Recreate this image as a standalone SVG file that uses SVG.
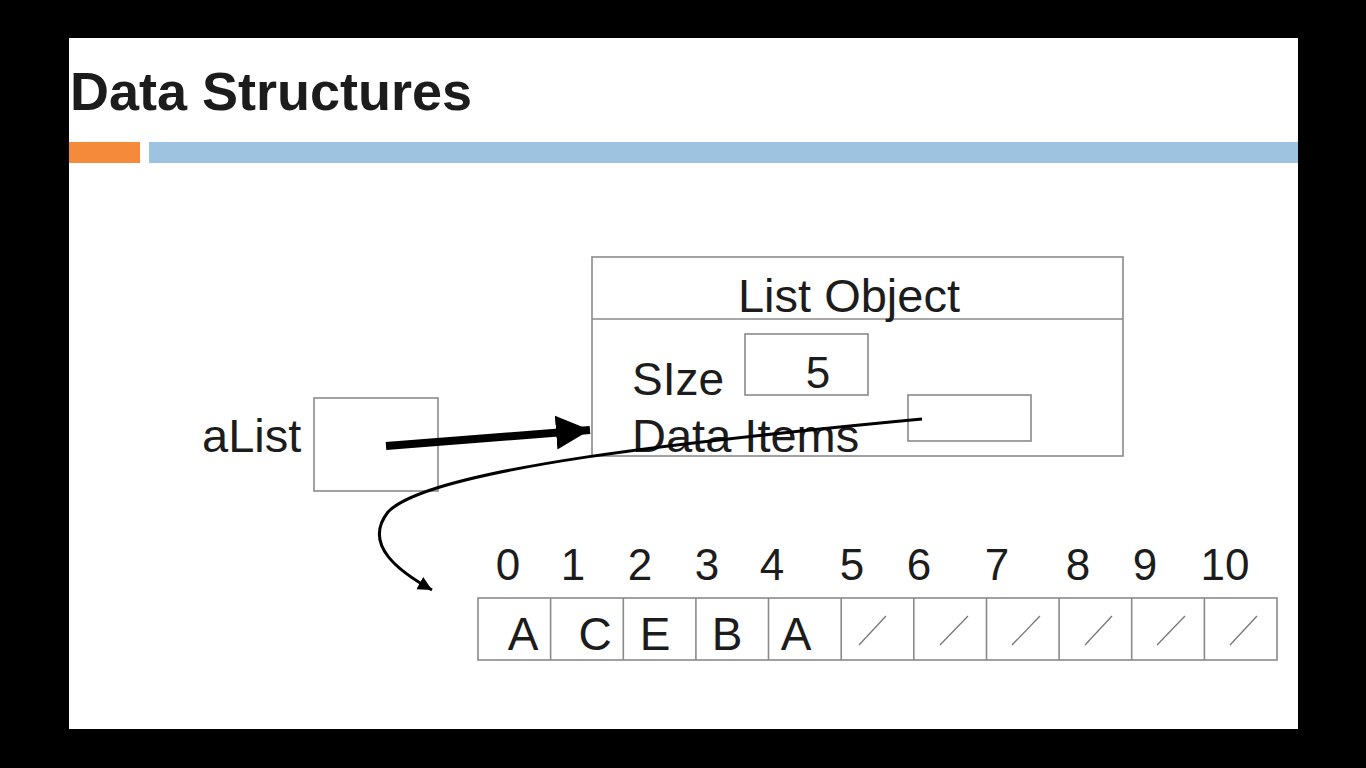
<svg xmlns="http://www.w3.org/2000/svg" width="1366" height="768" viewBox="0 0 1366 768">
<defs>
<style>
.t{font-family:"Liberation Sans",Arial,sans-serif;fill:#1c1c1c;}
.box{fill:none;stroke:#8a8a8a;stroke-width:1.6;}
.sl{stroke:#777;stroke-width:1.3;}
</style>
<marker id="big" markerUnits="userSpaceOnUse" markerWidth="40" markerHeight="40" refX="34" refY="17" orient="auto" viewBox="0 0 40 34">
<path d="M0,0 L34,17 L0,34 Z" fill="#000"/>
</marker>
<marker id="small" markerUnits="userSpaceOnUse" markerWidth="16" markerHeight="16" refX="14" refY="7" orient="auto" viewBox="0 0 16 14">
<path d="M0,0 L14,7 L0,14 Z" fill="#000"/>
</marker>
</defs>
<rect x="0" y="0" width="1366" height="768" fill="#000"/>
<rect x="69" y="38" width="1229" height="691" fill="#fff"/>
<text class="t" x="70" y="110" font-size="54" font-weight="bold" fill="#111">Data Structures</text>
<rect x="69" y="142" width="71" height="21" fill="#f58b3a"/>
<rect x="149" y="142" width="1149" height="21" fill="#9dc3e0"/>

<g id="listObject">
<rect class="box" x="592" y="257" width="531" height="199"/>
<line class="box" x1="592" y1="319" x2="1123" y2="319"/>
<text class="t" x="849" y="312" font-size="47" text-anchor="middle">List Object</text>
<text class="t" x="632" y="395" font-size="46">SIze</text>
<rect class="box" x="745" y="334" width="123" height="61"/>
<text class="t" x="818" y="388" font-size="44" text-anchor="middle">5</text>
<text class="t" x="632" y="452" font-size="47">Data Items</text>
<rect class="box" x="908" y="395" width="123" height="46"/>
</g>

<g id="aList">
<text class="t" x="202" y="452" font-size="47">aList</text>
<rect class="box" x="314" y="398" width="124" height="93"/>
</g>

<g id="array">
<rect class="box" x="478" y="598" width="799" height="62"/>
<g class="box">
<line x1="550.6" y1="598" x2="550.6" y2="660"/>
<line x1="623.3" y1="598" x2="623.3" y2="660"/>
<line x1="695.9" y1="598" x2="695.9" y2="660"/>
<line x1="768.5" y1="598" x2="768.5" y2="660"/>
<line x1="841.2" y1="598" x2="841.2" y2="660"/>
<line x1="913.8" y1="598" x2="913.8" y2="660"/>
<line x1="986.5" y1="598" x2="986.5" y2="660"/>
<line x1="1059.1" y1="598" x2="1059.1" y2="660"/>
<line x1="1131.7" y1="598" x2="1131.7" y2="660"/>
<line x1="1204.4" y1="598" x2="1204.4" y2="660"/>
</g>
<g class="t" font-size="44" text-anchor="middle">
<text x="508" y="580">0</text>
<text x="573" y="580">1</text>
<text x="640" y="580">2</text>
<text x="707" y="580">3</text>
<text x="772" y="580">4</text>
<text x="852" y="580">5</text>
<text x="919" y="580">6</text>
<text x="997" y="580">7</text>
<text x="1078" y="580">8</text>
<text x="1145" y="580">9</text>
<text x="1225" y="580">10</text>
</g>
<g class="t" font-size="46" text-anchor="middle">
<text x="523" y="650">A</text>
<text x="595" y="650">C</text>
<text x="655" y="650">E</text>
<text x="727" y="650">B</text>
<text x="796" y="650">A</text>
</g>
<g class="sl">
<line x1="859" y1="645" x2="886" y2="616"/>
<line x1="940" y1="645" x2="968" y2="616"/>
<line x1="1012" y1="645" x2="1040" y2="616"/>
<line x1="1085" y1="645" x2="1112" y2="616"/>
<line x1="1157" y1="645" x2="1185" y2="616"/>
<line x1="1230" y1="645" x2="1257" y2="616"/>
</g>
</g>

<g id="connectors" fill="none" stroke="#000">
<path d="M386 446 L590 430" stroke-width="8" marker-end="url(#big)"/>
<path d="M922 419 C700 440 430 468 388 512 C362 545 400 572 432 590" stroke-width="3" marker-end="url(#small)"/>
</g>
</svg>
